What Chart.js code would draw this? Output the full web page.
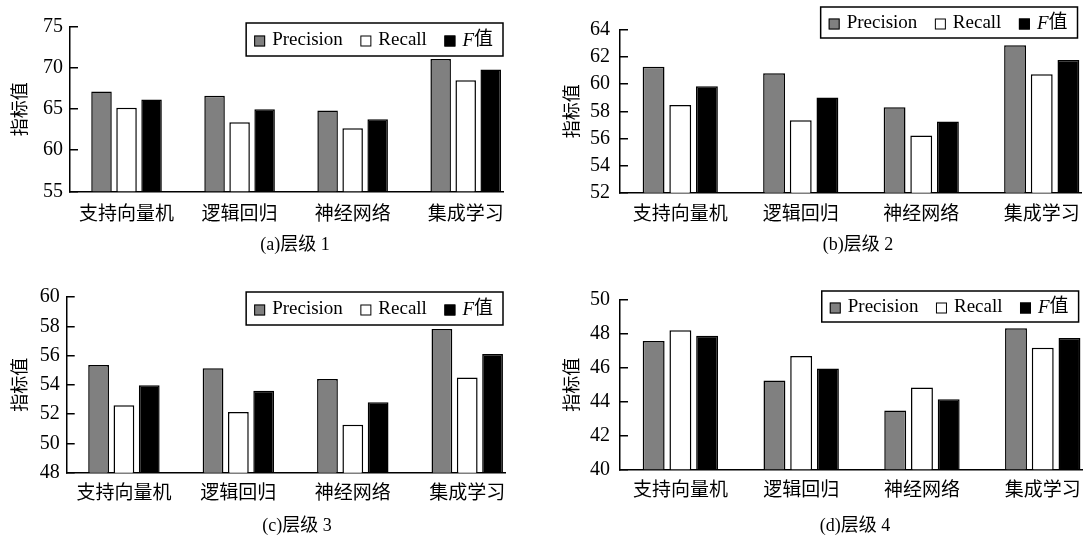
<!DOCTYPE html>
<html>
<head>
<meta charset="utf-8">
<script src="https://cdn.jsdelivr.net/npm/chart.js@4.4.0/dist/chart.umd.min.js"></script>
<style>
  body { margin: 0; background: #fff; }
  #wrap { position: relative; width: 1089px; height: 536px; overflow: hidden; background: #fff; }
  canvas { position: absolute; }
  .cap { position: absolute; font: 18px "Liberation Serif", "Noto Sans CJK SC", serif; line-height: 1; color: #000; transform: translate(-50%, -50%); white-space: nowrap; }
</style>
</head>
<body>
<div id="wrap">
  <canvas id="c1" width="520" height="262" style="left:0px;top:0px"></canvas>
  <canvas id="c2" width="541" height="262" style="left:548px;top:0px"></canvas>
  <canvas id="c3" width="520" height="266" style="left:0px;top:270px"></canvas>
  <canvas id="c4" width="541" height="266" style="left:548px;top:270px"></canvas>
</div>
<script>
// ======================
// DATA
// ======================
const categories = ["支持向量机", "逻辑回归", "神经网络", "集成学习"];
const seriesNames = ["Precision", "Recall", "F值"];
const captions = ["(a)层级 1", "(b)层级 2", "(c)层级 3", "(d)层级 4"];

// 层级 1
const precision1 = [67.15, 66.63, 64.84, 71.10];
const recall1    = [65.16, 63.41, 62.69, 68.51];
const fValue1    = [66.16, 65.00, 63.76, 69.82];
const yAxis1     = [55, 75, 5];   // min, max, step

// 层级 2
const precision2 = [61.29, 60.81, 58.31, 62.87];
const recall2    = [58.46, 57.35, 56.22, 60.74];
const fValue2    = [59.85, 59.03, 57.26, 61.79];
const yAxis2     = [52, 64, 2];

// 层级 3
const precision3 = [55.36, 55.13, 54.40, 57.81];
const recall3    = [52.60, 52.15, 51.28, 54.51];
const fValue3    = [53.98, 53.60, 52.81, 56.11];
const yAxis3     = [48, 60, 2];

// 层级 4
const precision4 = [47.58, 45.24, 43.48, 48.33];
const recall4    = [48.21, 46.69, 44.83, 47.18];
const fValue4    = [47.89, 45.96, 44.14, 47.76];
const yAxis4     = [40, 50, 2];

// the x axis stops a bit before the end of the last category
const xMax = 3.33;

// ======================
// STYLE / LAYOUT
// ======================
const SERIF = '"Liberation Serif", "Noto Sans CJK SC", serif';
const CJK = '"Noto Sans CJK SC", sans-serif';
const barColors = ["#808080", "#ffffff", "#000000"];

const panels = [
    { id: "c1", values: [precision1, recall1, fValue1], y: yAxis1, yw: 70, pt: 24, pr: 17, xh: 70.7,
      labelPad: 15, titlePad: 8, xPad: 10, legend: { dx: 0, dy: -4, h: 33 }, cap: [295, 244] },
    { id: "c2", values: [precision2, recall2, fValue2], y: yAxis2, yw: 72, pt: 28, pr: 3, xh: 69.3,
      labelPad: 18, titlePad: 12, xPad: 9, legend: { dx: 4, dy: -23, h: 31 }, cap: [858, 244] },
    { id: "c3", values: [precision3, recall3, fValue3], y: yAxis3, yw: 66.7, pt: 14.7, pr: 15, xh: 63.3,
      labelPad: 15, titlePad: 8, xPad: 8, legend: { dx: 2, dy: -5, h: 33 }, cap: [297, 525] },
    { id: "c4", values: [precision4, recall4, fValue4], y: yAxis4, yw: 72, pt: 22, pr: 3, xh: 66.7,
      labelPad: 18, titlePad: 12, xPad: 8, legend: { dx: 4, dy: -9, h: 31 }, cap: [855, 525] }
];


// ======================
// LEGEND (box inside plot)
// ======================
function nameWidth(ctx, name, font) {
    if (name === "F值") {
        ctx.font = "italic " + font;
        const w = ctx.measureText("F").width;
        ctx.font = font;
        return w + ctx.measureText("值").width;
    }
    ctx.font = font;
    return ctx.measureText(name).width;
}

function drawName(ctx, name, x, y, font) {
    if (name === "F值") {
        ctx.font = "italic " + font;
        ctx.fillText("F", x, y);
        x += ctx.measureText("F").width;
        ctx.font = font;
        ctx.fillText("值", x, y);
        return;
    }
    ctx.font = font;
    ctx.fillText(name, x, y);
}

const boxLegend = {
    id: "boxLegend",
    afterDraw(chart, args, opts) {
        const ctx = chart.ctx;
        const area = chart.chartArea;
        const font = "19px " + SERIF;
        const sq = 11, gapIn = 7, gapOut = 17.5, padL = 8, padR = 10;

        ctx.save();
        const widths = seriesNames.map(n => nameWidth(ctx, n, font));
        let w = padL + padR;
        widths.forEach((tw, i) => { w += sq + gapIn + tw + (i ? gapOut : 0); });

        const right = area.right - opts.dx;
        const top = area.top + opts.dy;
        const left = right - w;
        const cy = top + opts.h / 2;

        ctx.fillStyle = "#fff";
        ctx.fillRect(left, top, w, opts.h);
        ctx.lineWidth = 1.5;
        ctx.strokeStyle = "#000";
        ctx.strokeRect(left, top, w, opts.h);

        ctx.textBaseline = "middle";
        ctx.textAlign = "left";
        let x = left + padL;
        seriesNames.forEach((n, i) => {
            ctx.fillStyle = barColors[i];
            ctx.fillRect(x, cy - sq / 2 + 1.5, sq, sq);
            ctx.lineWidth = 1;
            ctx.strokeRect(x + 0.5, cy - sq / 2 + 2, sq - 1, sq - 1);
            x += sq + gapIn;
            ctx.fillStyle = "#000";
            drawName(ctx, n, x, cy + 1, font);
            x += widths[i] + gapOut;
        });
        ctx.restore();
    }
};


// ======================
// CHARTS
// ======================
panels.forEach((p, k) => {

    new Chart(document.getElementById(p.id), {
        type: "bar",
        data: {
            datasets: p.values.map((vals, i) => ({
                label: seriesNames[i],
                data: vals.map((v, j) => ({ x: j, y: v })),
                backgroundColor: barColors[i],
                borderColor: "#000",
                borderWidth: 1.5,
                categoryPercentage: 0.664,
                barPercentage: 0.82
            }))
        },
        options: {
            responsive: false,
            animation: false,
            devicePixelRatio: 1,
            layout: { padding: { left: 0, top: p.pt, right: p.pr, bottom: 0 } },
            plugins: {
                legend: { display: false },
                tooltip: { enabled: false },
                boxLegend: p.legend
            },
            scales: {
                x: {
                    type: "linear",
                    min: -0.5,
                    max: xMax,
                    offset: false,
                    afterBuildTicks: s => { s.ticks = categories.map((c, j) => ({ value: j })); },
                    afterFit: s => { s.height = p.xh; },
                    grid: { display: false, drawTicks: false },
                    border: { display: true, color: "#000", width: 1.5 },
                    ticks: {
                        autoSkip: false,
                        maxRotation: 0,
                        padding: p.xPad,
                        color: "#000",
                        font: { family: CJK, size: 19 },
                        callback: v => categories[v]
                    }
                },
                y: {
                    min: p.y[0],
                    max: p.y[1],
                    afterFit: s => { s.width = p.yw; },
                    ticks: {
                        stepSize: p.y[2],
                        padding: p.labelPad,
                        color: "#000",
                        font: { family: SERIF, size: 20 }
                    },
                    grid: {
                        display: true,
                        drawOnChartArea: false,
                        drawTicks: true,
                        tickLength: -8,
                        color: "#000",
                        lineWidth: 1.5
                    },
                    border: { display: true, color: "#000", width: 1.5 },
                    title: {
                        display: true,
                        text: "指标值",
                        color: "#000",
                        padding: { top: p.titlePad, bottom: 4 },
                        font: { family: CJK, size: 18 }
                    }
                }
            }
        },
        plugins: [boxLegend]
    });

    // caption under each panel
    const cap = document.createElement("div");
    cap.className = "cap";
    cap.style.left = p.cap[0] + "px";
    cap.style.top = p.cap[1] + "px";
    cap.textContent = captions[k];
    document.getElementById("wrap").appendChild(cap);
});
</script>
</body>
</html>
